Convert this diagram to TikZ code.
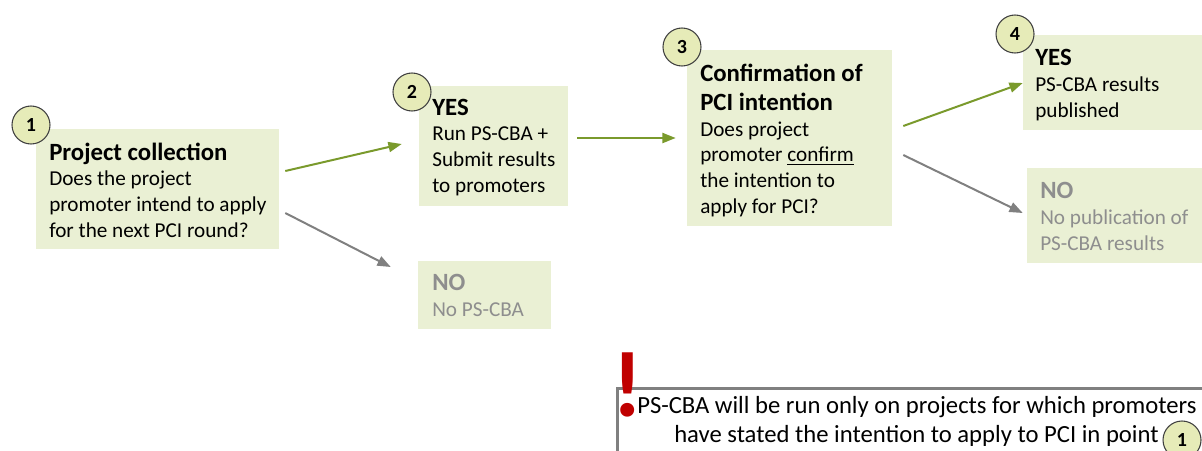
\documentclass[tikz,border=0pt]{standalone}
\usepackage{fontspec}
\setmainfont{Carlito}
\usetikzlibrary{arrows.meta,fit,calc}
\definecolor{boxfill}{HTML}{EAF0D4}
\definecolor{circfill}{HTML}{E6EBB8}
\definecolor{circline}{HTML}{404040}
\definecolor{arrgreen}{HTML}{7A9A2C}
\definecolor{arrgray}{HTML}{808080}
\definecolor{notext}{HTML}{8E8E8E}
\definecolor{alertred}{HTML}{C00000}
\newcommand\bodyf{\fontsize{15.9}{19.2}\selectfont}
\newcommand\titlef{\fontsize{18.6}{21}\selectfont\bfseries}
\begin{document}
\begin{tikzpicture}[x=0.75pt,y=-0.75pt,
  box/.style={fill=boxfill,draw=none,inner sep=0pt},
  txt/.style={anchor=base west,inner sep=0pt,align=left,font=\bodyf},
  notxt/.style={txt,text=notext},
  numc/.style={circle,draw=circline,line width=0.8pt,fill=circfill,minimum size=28.5pt,inner sep=0pt,font=\fontsize{15}{15}\selectfont\bfseries},
  garrow/.style={draw=arrgreen,line width=1.5pt,-{Triangle[length=10pt,width=7.5pt]}},
  grarrow/.style={draw=arrgray,line width=1.5pt,-{Triangle[length=10pt,width=7.5pt]}},
  notebox/.style={draw=arrgray,line width=2.25pt,fill=white,inner sep=0pt}]
\useasboundingbox (0,0) rectangle (1202,450);
% boxes
\node[box,fit={(36,129)(279,249)}] (b1) {};
\node[box,fit={(419,86)(568,206)}] (b2) {};
\node[box,fit={(418,261)(551,329)}] (bno1) {};
\node[box,fit={(687,50)(892,226)}] (b3) {};
\node[box,fit={(1023,35)(1202,130)}] (b4) {};
\node[box,fit={(1027,168)(1202,263)}] (bno2) {};
% texts (anchored at the baseline of the last line)
\node[txt] (t1) at (49,237) {{\titlef Project collection}\\Does the project\\promoter intend to apply\\for the next PCI round?};
\node[txt] (t2) at (432,192) {{\titlef YES}\\Run PS-CBA +\\Submit results\\to promoters};
\node[notxt] (tno1) at (432,316) {{\titlef NO}\\No PS-CBA};
\node[txt] (t3) at (700,213) {{\titlef Confirmation of}\\[2.5pt]{\titlef PCI intention}\\Does project\\promoter \underline{confirm}\\the intention to\\apply for PCI?};
\node[txt] (t4) at (1035,117) {{\titlef YES}\\PS-CBA results\\published};
\node[notxt] (tno2) at (1040,250) {{\titlef NO}\\No publication of\\PS-CBA results};
% number circles
\node[numc] (n1) at (31,125) {1};
\node[numc] (n2) at (412,92) {2};
\node[numc] (n3) at (682,47) {3};
\node[numc] (n4) at (1015,34) {4};
% arrows
\draw[garrow] ($(b1.east)+(6,-18)$) -- ($(b2.west)+(-17,-2)$);
\draw[grarrow] ($(b1.east)+(6,24)$) -- ($(bno1.west)+(-27,-28)$);
\draw[garrow] ($(b2.east)+(9,-8)$) -- ($(b3.west)+(-11,0)$);
\draw[garrow] ($(b3.east)+(11,-12)$) -- ($(b4.west)+(0,0.5)$);
\draw[grarrow] ($(b3.east)+(11,17)$) -- ($(bno2.west)+(-4,-2.5)$);
% note
\node[notebox,fit={(617,388)(1240,480)}] (note) {};
\node[anchor=base,text=alertred,font=\fontsize{70}{70}\selectfont\bfseries,inner sep=0pt] (excl) at (628,416) {!};
\node[anchor=base west,inner sep=0pt,align=left,font=\fontsize{18.5}{21.75}\selectfont] (nt) at (637,442) {PS-CBA will be run only on projects for which promoters\\\hspace*{27.75pt}have stated the intention to apply to PCI in point};
\node[numc] (n5) at (1182,440) {1};
\end{tikzpicture}
\end{document}
